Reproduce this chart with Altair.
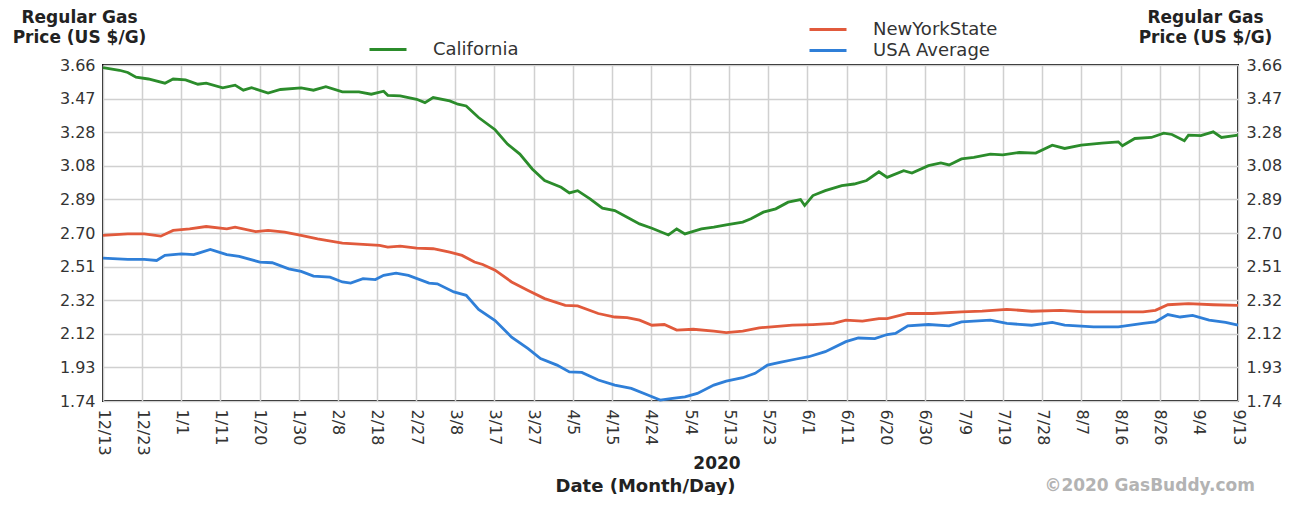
import altair as alt
import pandas as pd

# ---- data (day = days since 2019-12-13) ----
CA_DAY = [0, 4, 6, 8, 11, 15, 17, 20, 23, 25, 29, 32, 34, 36, 40, 43, 48, 51, 54, 58,
          62, 65, 68, 69, 72, 76, 78, 80, 84, 86, 88, 91, 95, 98, 101, 104, 107, 111, 113, 115,
          118, 121, 124, 127, 130, 133, 137, 139, 141, 145, 148, 151, 155, 157, 160, 163, 166, 169, 170, 172,
          175, 179, 182, 185, 188, 190, 194, 196, 200, 203, 205, 208, 211, 215, 218, 222, 226, 230, 233, 237,
          242, 246, 247, 250, 254, 257, 259, 262, 263, 266, 269, 271, 275]
CA_PRICE = [3.645, 3.63, 3.617, 3.59, 3.58, 3.556, 3.58, 3.575, 3.55, 3.556, 3.53, 3.545, 3.516, 3.53, 3.50, 3.52, 3.529, 3.516, 3.536, 3.506,
            3.506, 3.493, 3.51, 3.487, 3.483, 3.464, 3.445, 3.474, 3.455, 3.436, 3.426, 3.36, 3.29, 3.208, 3.151, 3.066, 3.0, 2.961, 2.929, 2.942,
            2.895, 2.842, 2.828, 2.79, 2.752, 2.727, 2.689, 2.723, 2.695, 2.723, 2.733, 2.747, 2.762, 2.781, 2.819, 2.838, 2.876, 2.891, 2.857, 2.914,
            2.942, 2.971, 2.98, 3.0, 3.05, 3.018, 3.056, 3.043, 3.085, 3.1, 3.089, 3.123, 3.132, 3.151, 3.146, 3.16, 3.157, 3.202, 3.183, 3.202,
            3.214, 3.221, 3.199, 3.24, 3.246, 3.271, 3.263, 3.227, 3.259, 3.256, 3.278, 3.246, 3.259]

NY_DAY = [0, 6, 10, 14, 17, 21, 25, 30, 32, 37, 40, 44, 48, 52, 58, 63, 67, 69, 72, 76,
          80, 84, 87, 90, 92, 95, 99, 103, 107, 112, 115, 120, 124, 127, 130, 133, 136, 139, 143, 148,
          151, 155, 159, 162, 167, 172, 177, 180, 184, 188, 190, 195, 201, 208, 213, 219, 225, 232, 238, 245,
          252, 255, 258, 263, 269, 275]
NY_PRICE = [2.686, 2.695, 2.695, 2.682, 2.715, 2.724, 2.737, 2.724, 2.733, 2.708, 2.715, 2.705, 2.686, 2.667, 2.642, 2.635, 2.629, 2.619, 2.625, 2.613,
            2.61, 2.591, 2.572, 2.534, 2.52, 2.488, 2.42, 2.372, 2.325, 2.287, 2.283, 2.24, 2.22, 2.217, 2.202, 2.173, 2.177, 2.145, 2.15, 2.139,
            2.131, 2.139, 2.158, 2.164, 2.173, 2.177, 2.183, 2.202, 2.197, 2.211, 2.211, 2.24, 2.24, 2.249, 2.253, 2.264, 2.253, 2.258, 2.249, 2.249,
            2.249, 2.258, 2.29, 2.296, 2.29, 2.287]

US_DAY = [0, 6, 10, 13, 15, 19, 22, 26, 30, 33, 38, 41, 45, 48, 51, 55, 58, 60, 63, 66,
          68, 71, 74, 79, 81, 85, 88, 91, 95, 99, 103, 106, 110, 113, 116, 120, 124, 128, 132, 135,
          138, 141, 144, 148, 151, 155, 158, 161, 164, 168, 171, 175, 180, 183, 187, 190, 192, 195, 200, 205,
          208, 215, 219, 225, 230, 233, 240, 246, 252, 255, 258, 261, 264, 268, 272, 275]
US_PRICE = [2.557, 2.549, 2.549, 2.543, 2.572, 2.581, 2.576, 2.606, 2.576, 2.566, 2.534, 2.53, 2.495, 2.481, 2.454, 2.448, 2.42, 2.414, 2.439, 2.434,
            2.458, 2.471, 2.458, 2.414, 2.41, 2.363, 2.344, 2.263, 2.2, 2.105, 2.039, 1.982, 1.945, 1.906, 1.903, 1.86, 1.831, 1.812, 1.774, 1.745,
            1.755, 1.764, 1.783, 1.831, 1.854, 1.873, 1.898, 1.945, 1.961, 1.98, 1.993, 2.022, 2.079, 2.1, 2.097, 2.12, 2.126, 2.169, 2.177, 2.169,
            2.192, 2.202, 2.183, 2.173, 2.189, 2.173, 2.164, 2.164, 2.183, 2.192, 2.234, 2.22, 2.229, 2.202, 2.189, 2.173]

SERIES = ["California", "NewYorkState", "USA Average"]
COLORS = ["#2b8c2b", "#e15a3c", "#2f7fd8"]

X_LABELS = ["12/13", "12/23", "1/1", "1/11", "1/20", "1/30", "2/8", "2/18", "2/27", "3/8",
            "3/17", "3/27", "4/5", "4/15", "4/24", "5/4", "5/13", "5/23", "6/1", "6/11",
            "6/20", "6/30", "7/9", "7/19", "7/28", "8/7", "8/16", "8/26", "9/4", "9/13"]
Y_TICKS = [1.74, 1.932, 2.124, 2.316, 2.508, 2.70, 2.892, 3.084, 3.276, 3.468, 3.66]
Y_TITLE = ["Regular Gas", "Price (US $/G)"]

# ---- build table ----
rows = []
for name, days, vals in [(SERIES[0], CA_DAY, CA_PRICE), (SERIES[1], NY_DAY, NY_PRICE), (SERIES[2], US_DAY, US_PRICE)]:
    for d, v in zip(days, vals):
        rows.append({"series": name, "day": d, "price": v})
df = pd.DataFrame(rows)

FONT = "DejaVu Sans"
N = len(X_LABELS) - 1
X_MAX = 275
x_ticks = [round(i * X_MAX / N, 4) for i in range(len(X_LABELS))]
label_js = "[" + ",".join("'%s'" % s for s in X_LABELS) + "]"

x_enc = alt.X(
    "day:Q",
    scale=alt.Scale(domain=[0, X_MAX], nice=False, zero=False),
    axis=alt.Axis(
        values=x_ticks,
        labelExpr=label_js + "[round(datum.value*%d/%d)]" % (N, X_MAX),
        labelAngle=90, labelAlign="left", labelBaseline="middle", labelPadding=8,
        labelFont=FONT, labelFontSize=16, labelColor="#333333",
        labelFlush=False, labelOverlap=False,
        ticks=False, domain=False,
        grid=True, gridColor="#d0d0d0", gridWidth=1.5,
        title="Date (Month/Day)", titleFont=FONT, titleFontSize=18, titleFontWeight="bold",
        titleColor="#222222", titleX=542, titleY=90, titleAlign="center", titleBaseline="alphabetic",
    ),
)

y_scale = alt.Scale(domain=[1.74, 3.66], nice=False, zero=False)

def y_axis(orient, grid, title_x):
    return alt.Axis(
        orient=orient, values=Y_TICKS, format=".2f",
        labelFont=FONT, labelFontSize=16, labelColor="#333333", labelPadding=8,
        labelOverlap=False,
        ticks=False, domain=False,
        grid=grid, gridColor="#d0d0d0", gridWidth=1.5,
        title=Y_TITLE, titleAngle=0, titleX=title_x, titleY=-43,
        titleAlign="center", titleBaseline="alphabetic",
        titleFont=FONT, titleFontSize=17, titleFontWeight="bold", titleColor="#222222",
        titleLineHeight=20,
    )

def legend(x, y):
    return alt.Legend(
        orient="none", legendX=x, legendY=y, title=None,
        symbolType="stroke", symbolSize=1369, symbolStrokeWidth=3,
        labelFont=FONT, labelFontSize=18, labelColor="#333333", labelOffset=25,
        clipHeight=21, rowPadding=0, padding=0,
    )

base = alt.Chart(df)

ca = base.transform_filter(alt.datum.series == SERIES[0]).mark_line(strokeWidth=2.8).encode(
    x=x_enc,
    y=alt.Y("price:Q", scale=y_scale, axis=y_axis("left", True, -24)),
    color=alt.Color("series:N", scale=alt.Scale(domain=[SERIES[0]], range=[COLORS[0]]),
                    legend=legend(265, -26)),
)

others = base.transform_filter(alt.datum.series != SERIES[0]).mark_line(strokeWidth=2.8).encode(
    x=x_enc,
    y=alt.Y("price:Q", scale=y_scale, axis=None),
    color=alt.Color("series:N", scale=alt.Scale(domain=SERIES[1:], range=COLORS[1:]),
                    legend=legend(705, -46)),
)

right = base.mark_line(opacity=0).encode(
    x=x_enc,
    y=alt.Y("price:Q", scale=y_scale, axis=y_axis("right", False, -33)),
)

year_txt = alt.Chart(pd.DataFrame({"t": ["2020"]})).mark_text(
    font=FONT, fontSize=17, fontWeight="bold", color="#222222", align="center", baseline="alphabetic"
).encode(text="t:N", x=alt.value(614), y=alt.value(404))

credit_txt = alt.Chart(pd.DataFrame({"t": ["\u00a92020 GasBuddy.com"]})).mark_text(
    font=FONT, fontSize=17, fontWeight="bold", color="#b3b3b3", align="right", baseline="alphabetic"
).encode(text="t:N", x=alt.value(1152), y=alt.value(426))

chart = (
    alt.layer(ca, others, right, year_txt, credit_txt)
    .resolve_scale(y="independent", color="independent")
    .resolve_legend(color="independent")
    .properties(
        width=1135, height=336,
        autosize=alt.AutoSizeParams(type="none"),
        padding={"left": 95, "top": 57, "right": 45, "bottom": 94},
        background="white",
    )
    .configure_view(stroke="#111111", strokeWidth=2)
)

chart.save("out.html", embed_options={"renderer": "svg", "actions": False})
